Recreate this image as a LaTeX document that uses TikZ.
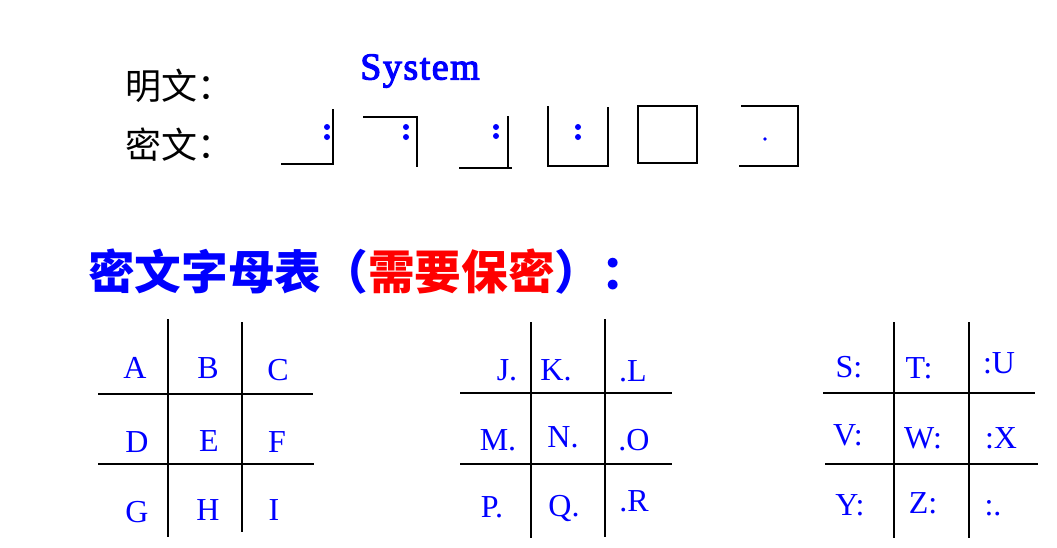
\documentclass[tikz,border=0pt]{standalone}
\usepackage{fontspec}
\setmainfont{Liberation Serif}
\newfontfamily\cjk{Noto Sans CJK SC}
\newfontfamily\heavyserif{Liberation Serif}[FakeBold=3,LetterSpace=4]
\usepackage{tikz}
\definecolor{cipherblue}{RGB}{0,0,255}
\definecolor{secretred}{RGB}{255,0,0}
\tikzset{
  thickline/.style={line width=1.6pt},
  thinline/.style={line width=0.9pt},
  letter/.style={text=cipherblue,font=\fontsize{24}{24}\selectfont,inner sep=0pt},
}

\begin{document}
\begin{tikzpicture}[x=0.75pt,y=0.75pt,yscale=-1,xscale=1]
\useasboundingbox (0,0) rectangle (1057,547);
% Text Node
\draw (125,86) node (plainlbl) [anchor=west,inner sep=0pt] {\cjk\fontsize{27}{27}\selectfont 明文：};
% Text Node
\draw (125,145) node (cipherlbl) [anchor=west,inner sep=0pt] {\cjk\fontsize{27}{27}\selectfont 密文：};
% Text Node
\draw (420,71) node (word) [text=cipherblue,inner sep=0pt] {\heavyserif\fontsize{28.5}{28.5}\selectfont System};
% Text Node
\draw (88,272) node (title) [anchor=west,inner sep=0pt] {\cjk\fontsize{35}{35}\selectfont\bfseries\color{cipherblue}密文字母表（\textcolor{secretred}{需要保密}）：};

%Cipher S
\draw [thickline]  (281,164) -- (333,164) -- (333,109) ;
\fill [cipherblue] (327,127) circle [radius=3] (327,137) circle [radius=3] ;
%Cipher y
\draw [thinline]  (363,117) -- (417,117) -- (417,167) ;
\fill [cipherblue] (406,127) circle [radius=3] (406,137) circle [radius=3] ;
%Cipher s
\draw [thickline]  (459,168) -- (512,168) ;
\draw [thickline]  (508,116) -- (508,168) ;
\fill [cipherblue] (496,127) circle [radius=3] (496,136) circle [radius=3] ;
%Cipher t
\draw [thickline]  (548,106) -- (548,166) -- (608,166) -- (608,107) ;
\fill [cipherblue] (578,127) circle [radius=3] (578,137) circle [radius=3] ;
%Cipher e
\draw [thickline]  (638,106) rectangle (697,163) ;
%Cipher m
\draw [thickline]  (741,106) -- (798,106) -- (798,166) -- (739,166) ;
\fill [cipherblue] (765,139) circle [radius=1.8] ;

%Grid A-I
\draw [thinline]  (168,319) -- (168,537) ;
\draw [thickline]  (242,322) -- (242,532) ;
\draw [thinline]  (98,394) -- (313,394) ;
\draw [thickline]  (98,464) -- (314,464) ;
\draw (135,368) node (la) [letter] {A};
\draw (208,368) node (lb) [letter] {B};
\draw (278,370) node (lc) [letter] {C};
\draw (137,442) node (ld) [letter] {D};
\draw (209,441) node (le) [letter] {E};
\draw (277,442) node (lf) [letter] {F};
\draw (137,512) node (lg) [letter] {G};
\draw (208,510) node (lh) [letter] {H};
\draw (274,510) node (li) [letter] {I};

%Grid J-R
\draw [thickline]  (531,322) -- (531,538) ;
\draw [thickline]  (605,319) -- (605,537) ;
\draw [thickline]  (460,393) -- (672,393) ;
\draw [thickline]  (460,464) -- (672,464) ;
\draw (507,370) node (lj) [letter] {J.};
\draw (556,370) node (lk) [letter] {K.};
\draw (633,371) node (ll) [letter] {.L};
\draw (498,440) node (lm) [letter] {M.};
\draw (563,437) node (ln) [letter] {N.};
\draw (634,440) node (lo) [letter] {.O};
\draw (492,507) node (lp) [letter] {P.};
\draw (564,508) node (lq) [letter] {Q.};
\draw (634,501) node (lr) [letter] {.R};

%Grid S-Z
\draw [thickline]  (894,322) -- (894,538) ;
\draw [thickline]  (969,322) -- (969,538) ;
\draw [thickline]  (823,393) -- (1035,393) ;
\draw [thickline]  (825,464) -- (1038,464) ;
\draw (849,367) node (ls) [letter] {S:};
\draw (919,368) node (lt) [letter] {T:};
\draw (999,363) node (lu) [letter] {:U};
\draw (848,435) node (lv) [letter] {V:};
\draw (923,438) node (lw) [letter] {W:};
\draw (1001,438) node (lx) [letter] {:X};
\draw (850,505) node (ly) [letter] {Y:};
\draw (923,503) node (lz) [letter] {Z:};
\draw (993,508) node (lend) [letter] {:.};
\end{tikzpicture}
\end{document}
